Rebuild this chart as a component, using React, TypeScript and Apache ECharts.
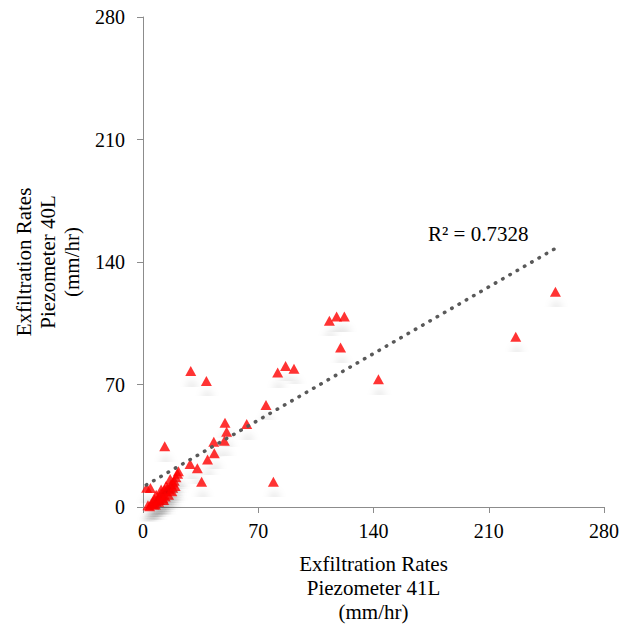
import React, { useEffect, useRef } from "react";
import * as echarts from "echarts";

// Exfiltration rates: Piezometer 41L (x) vs Piezometer 40L (y), mm/hr
const piezo41L: number[] = [
  250.5, 226.4, 143, 113.2, 117.6, 122.3, 120, 79.2, 91.7, 86.6, 81.8, 74.7,
  63, 49.8, 50.8, 43, 49.4, 43.3, 39.2, 29, 38.5, 13.2, 28.6, 33, 35.6, 2.2, 4.5,
  3, 5, 6, 7, 8, 9, 10, 8, 11, 12, 13, 11, 14, 15, 16, 17, 18, 19, 20, 21, 21.5, 18, 14, 10, 12, 6.5, 16.5,
  4, 7.5, 9.5, 12.5, 15.5, 19.5, 13.5, 17.5,
];
const piezo40L: number[] = [
  123, 97.3, 73, 106.5, 108.8, 108.8, 91.2, 14.5, 79, 80.6, 76.8, 58.3,
  47.4, 48.2, 43, 37.3, 37.9, 30.7, 27.2, 77.7, 72, 34.7, 24.6, 22.1, 14.5, 11, 10.8,
  1, 2, 3, 4.5, 3, 5, 6, 7, 8, 7, 10, 10, 9, 11, 10, 13, 11, 15, 17, 19, 20.5, 14, 12, 4, 5, 1.5, 16,
  0.5, 1.5, 3, 4, 7, 12, 6, 9,
];
const trendX: number[] = [2, 250];
const trendY: number[] = [12.6, 147.5];
const tickValues: number[] = [0, 70, 140, 210, 280];
const r2Label = "R² = 0.7328";
const xTitle = ["Exfiltration Rates", "Piezometer 41L", "(mm/hr)"];
const yTitle = ["Exfiltration Rates", "Piezometer 40L", "(mm/hr)"];

const FONT = "Liberation Serif";

export default function App() {
  const ref = useRef<HTMLDivElement>(null);
  useEffect(() => {
    if (!ref.current) return;
    const chart = echarts.init(ref.current, undefined, { renderer: "svg" });
    const points = piezo41L.map((x, i) => [x, piezo40L[i]]);
    const trend = trendX.map((x, i) => [x, trendY[i]]);
    const axisCommon = {
      type: "value" as const,
      min: tickValues[0],
      max: tickValues[tickValues.length - 1],
      interval: tickValues[1] - tickValues[0],
      splitLine: { show: false },
      axisLine: { show: true, lineStyle: { color: "#8c8c8c", width: 1 } },
      axisTick: { show: true, inside: false, length: 6, lineStyle: { color: "#8c8c8c" } },
      nameLocation: "middle" as const,
      nameTextStyle: { fontFamily: FONT, fontSize: 21, lineHeight: 24, color: "#000" },
    };
    chart.setOption({
      animation: false,
      backgroundColor: "#fff",
      grid: { left: 143, right: 22, top: 17, bottom: 130, containLabel: false },
      xAxis: {
        ...axisCommon,
        name: xTitle.join("\n"),
        nameGap: 45,
        axisLabel: { fontFamily: FONT, fontSize: 20, color: "#000", margin: 14 },
      },
      yAxis: {
        ...axisCommon,
        name: yTitle.join("\n"),
        nameGap: 53,
        nameRotate: 90,
        axisLabel: { fontFamily: FONT, fontSize: 20, color: "#000", margin: 18 },
      },
      series: [
        {
          type: "scatter",
          data: points,
          symbol: "triangle",
          symbolSize: [11, 10],
          z: 2,
          itemStyle: {
            color: "#ff0000",
            shadowColor: "rgba(0,0,0,0.2)",
            shadowBlur: 8,
            shadowOffsetX: 1,
            shadowOffsetY: 14,
          },
        },
        {
          type: "line",
          data: trend,
          symbol: "none",
          z: 3,
          silent: true,
          lineStyle: { color: "#595959", width: 3.5, type: [0.5, 7.9], cap: "round" },
        },
      ],
      graphic: [
        {
          type: "text",
          left: 428,
          top: 223,
          style: { text: r2Label, fontFamily: FONT, fontSize: 21, fill: "#000" },
        },
      ],
    });
    return () => chart.dispose();
  }, []);
  return <div ref={ref} style={{ position: "fixed", left: 0, top: 0, width: 626, height: 637 }} />;
}
